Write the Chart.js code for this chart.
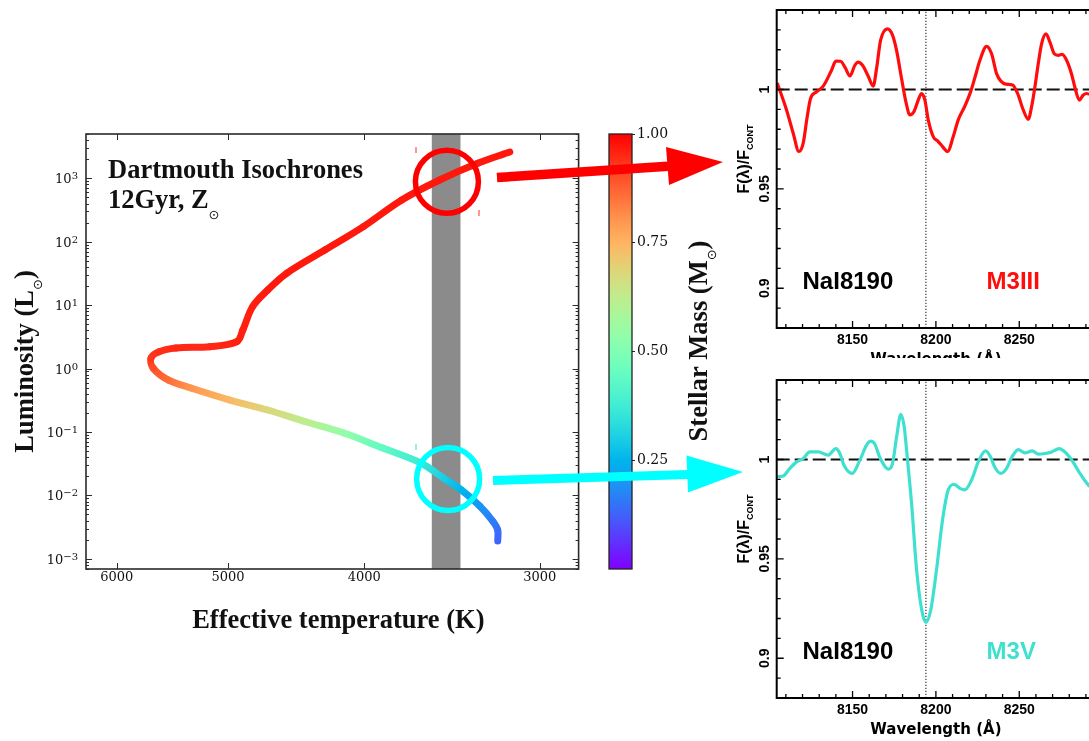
<!DOCTYPE html>
<html>
<head>
<meta charset="utf-8">
<title>Dartmouth isochrone and NaI8190 spectra</title>
<script src="https://cdn.jsdelivr.net/npm/chart.js@4.4.1/dist/chart.umd.min.js"></script>
<style>
  html, body { margin: 0; padding: 0; background: #fff; overflow: hidden; }
  body { width: 1089px; height: 741px; position: relative; }
  .box { position: absolute; }
  #hrBox { left: 0; top: 0; width: 600px; height: 660px; }
  #cbarBox { left: 560px; top: 0; width: 160px; height: 600px; }
  #specTopBox { left: 720px; top: -12px; width: 400px; height: 383px; }
  #specBotBox { left: 720px; top: 358px; width: 400px; height: 383px; background: #fff; }
  #arrows { position: absolute; left: 0; top: 0; z-index: 5; pointer-events: none; }
</style>
</head>
<body>
<div class="box" id="hrBox"><canvas id="hrChart" width="600" height="660"></canvas></div>
<div class="box" id="cbarBox"><canvas id="cbarChart" width="160" height="600"></canvas></div>
<div class="box" id="specTopBox"><canvas id="specTop" width="400" height="383"></canvas></div>
<div class="box" id="specBotBox"><canvas id="specBot" width="400" height="383"></canvas></div>
<svg id="arrows" width="1089" height="741">
  <line x1="497" y1="177.5" x2="668" y2="166.3" stroke="#ff0000" stroke-width="9.5"/>
  <polygon points="666,147 723,162 669,185" fill="#ff0000"/>
  <line x1="493" y1="480.5" x2="688" y2="474.5" stroke="#00ffff" stroke-width="9"/>
  <polygon points="686.5,455.5 743,472 688,492.5" fill="#00ffff"/>
  <line x1="416" y1="147" x2="416" y2="153" stroke="#ff5050" stroke-width="1.2"/>
  <line x1="479" y1="210" x2="479" y2="216" stroke="#ff5050" stroke-width="1.2"/>
  <line x1="416" y1="444" x2="416" y2="450" stroke="#60e0e0" stroke-width="1.2"/>
</svg>

<script>
// --- HR diagram data (12 Gyr, solar metallicity isochrone) ---
const isoTeff = [3214, 3214, 3241, 3310, 3410, 3512, 3646, 3880, 4135, 4402,
                 4685, 4985, 5313, 5516, 5653, 5672, 5598, 5445, 5150, 4928,
                 4880, 4803, 4685, 4542, 4266, 4005, 3761, 3535, 3321, 3151];
const isoLum = [0.0019, 0.00284, 0.00394, 0.00678, 0.0121, 0.0187, 0.0324, 0.0557, 0.0961, 0.145,
                0.222, 0.319, 0.494, 0.661, 1.02, 1.47, 1.84, 2.11, 2.21, 2.65,
                4.05, 9.44, 17.3, 31.8, 74, 173, 455, 940, 1726, 2600];
const isoMass = [0.13, 0.14, 0.16, 0.2, 0.25, 0.3, 0.37, 0.44, 0.54, 0.62,
                 0.68, 0.74, 0.8, 0.86, 0.9, 0.93, 0.94, 0.95, 0.95, 0.96,
                 0.96, 0.96, 0.97, 0.97, 0.97, 0.97, 0.97, 0.97, 0.97, 0.97];
const bandTeff = [3582, 3415];          // M3 temperature strip
const ringTeff = [3493, 3486];          // giant / dwarf highlight
const ringLum = [883, 0.0181];
const teffTicks = [6000, 5000, 4000, 3000];
const lumTickExp = [-3, -2, -1, 0, 1, 2, 3];
const massTicks = [0.25, 0.5, 0.75, 1.0];

const TEFF_MIN = 2815, TEFF_MAX = 6310;
const LUM_MIN = 6.9e-4, LUM_MAX = 5000;

// --- Spectra around NaI 8190 ---
const m3iiiWave = [8104.8, 8110.4, 8114.4, 8117.8, 8120.4, 8122.8, 8124.8, 8128.4, 8132.4, 8137.4,
                   8140.0, 8142.8, 8145.4, 8148.4, 8151.4, 8153.4, 8156.0, 8159.4, 8162.4, 8164.4,
                   8166.8, 8171.0, 8173.8, 8176.4, 8179.4, 8182.0, 8184.4, 8186.8, 8189.4, 8191.4,
                   8193.4, 8195.4, 8198.4, 8201.4, 8204.0, 8207.0, 8210.4, 8213.4, 8217.4, 8220.8,
                   8223.4, 8226.4, 8230.4, 8233.4, 8236.4, 8239.0, 8242.0, 8246.0, 8249.0, 8252.4,
                   8255.4, 8257.4, 8259.4, 8261.4, 8263.4, 8266.0, 8268.4, 8271.0, 8273.4, 8275.8,
                   8278.4, 8281.4, 8283.4, 8286.0, 8288.4, 8290.4, 8296.0];
const m3iiiFlux = [1.0033, 0.9897, 0.978, 0.9688, 0.973, 0.9863, 0.9955, 0.9988, 1.0017, 1.0097,
                   1.0143, 1.0142, 1.0113, 1.0068, 1.0122, 1.0138, 1.0122, 1.0067, 1.0017, 1.0105,
                   1.0247, 1.0305, 1.0277, 1.0197, 1.0055, 0.9938, 0.9872, 0.9888, 0.9947, 0.998,
                   0.9947, 0.9847, 0.9763, 0.9738, 0.9713, 0.9688, 0.9763, 0.9847, 0.9917, 0.9988,
                   1.006, 1.0147, 1.0217, 1.018, 1.008, 1.0042, 1.0027, 1.0023, 0.998, 0.9897,
                   0.985, 0.9913, 1.0013, 1.013, 1.023, 1.028, 1.0238, 1.018, 1.0172, 1.0177,
                   1.0147, 1.0077, 1.001, 0.9947, 0.9972, 0.998, 0.996];
const m3vWave = [8104.8, 8108.4, 8112.4, 8116.4, 8120.4, 8124.4, 8129.4, 8135.4, 8140.0, 8142.4,
                 8144.8, 8149.8, 8154.4, 8158.4, 8160.8, 8163.4, 8166.4, 8171.4, 8174.0, 8176.4,
                 8179.0, 8181.0, 8182.8, 8185.4, 8188.4, 8191.4, 8194.0, 8197.0, 8200.4, 8204.0,
                 8207.4, 8211.0, 8214.4, 8217.4, 8221.4, 8225.4, 8229.8, 8232.8, 8235.4, 8239.0,
                 8242.4, 8245.4, 8249.4, 8253.4, 8257.8, 8261.4, 8265.4, 8269.4, 8274.0, 8277.4,
                 8280.4, 8283.4, 8286.4, 8291.4, 8296.0];
const m3vFlux = [0.9913, 0.9917, 0.9955, 0.9988, 1.0005, 1.0038, 1.0038, 1.0022, 1.0055, 1.003,
                 0.9972, 0.993, 0.9997, 1.0072, 1.0092, 1.0077, 1.001, 0.9952, 0.998, 1.0113,
                 1.0227, 1.0163, 1.0013, 0.978, 0.9447, 0.9247, 0.918, 0.9247, 0.9447, 0.9697,
                 0.9847, 0.9875, 0.9855, 0.9847, 0.9897, 0.9988, 1.0043, 1.0013, 0.996, 0.993,
                 0.9955, 1.001, 1.005, 1.0033, 1.0043, 1.0027, 1.003, 1.0038, 1.0055, 1.0038,
                 1.001, 0.9972, 0.993, 0.9872, 0.984];
const waveTicks = [8150, 8200, 8250];
const fluxTicks = [0.9, 0.95, 1];
const fluxTickLabels = ['0.9', '0.95', '1'];

const WAVE_MIN = 8104.5, WAVE_MAX = 8300;
const FLUX_MIN = 0.88, FLUX_MAX = 1.04;
const NAI_WAVE = 8194, CONTINUUM = 1;

// matplotlib "rainbow" colormap
function rainbow(v) {
    const r = Math.min(1, Math.abs(2 * v - 0.5));
    const g = Math.sin(Math.PI * v);
    const b = Math.cos(Math.PI * v / 2);
    return `rgb(${Math.round(r * 255)},${Math.round(g * 255)},${Math.round(b * 255)})`;
}

// text pieces with their own font and vertical shift (for sub/superscripts)
function drawParts(ctx, parts, x, y, rot, align) {
    ctx.save();
    ctx.translate(x, y);
    ctx.rotate(rot);
    ctx.textAlign = 'left';
    ctx.textBaseline = 'alphabetic';
    let w = 0;
    parts.forEach(p => { ctx.font = p[1]; w += ctx.measureText(p[0]).width; });
    let cx = align === 'center' ? -w / 2 : 0;
    parts.forEach(p => {
        ctx.font = p[1];
        ctx.fillText(p[0], cx, p[2] || 0);
        cx += ctx.measureText(p[0]).width;
    });
    ctx.restore();
}

const SERIF_TITLE = 'bold 26.5px "Liberation Serif"';
const SUN_FONT = '13px "DejaVu Sans"';

// --- HR diagram ---
const hrDecor = {
    id: 'hrDecor',
    afterDatasetsDraw(chart) {
        const { ctx, scales: { x, y } } = chart;
        const ringColors = ['#ff0000', '#00ffff'];
        ctx.save();
        ctx.lineWidth = 5.5;
        ringTeff.forEach((t, i) => {
            ctx.strokeStyle = ringColors[i];
            ctx.beginPath();
            ctx.arc(x.getPixelForValue(t), y.getPixelForValue(ringLum[i]), 31.5, 0, Math.PI * 2);
            ctx.stroke();
        });
        ctx.restore();
    },
    afterDraw(chart) {
        const { ctx, chartArea: a, scales: { x, y } } = chart;
        ctx.save();
        ctx.strokeStyle = '#2a2a2a';
        ctx.lineWidth = 1.6;
        ctx.strokeRect(a.left, a.top, a.right - a.left, a.bottom - a.top);

        ctx.lineWidth = 1;
        ctx.beginPath();
        for (let e = -4; e <= 4; e++) {
            for (let m = 1; m < 10; m++) {
                const v = m * Math.pow(10, e);
                if (v < y.min || v > y.max) continue;
                const py = Math.round(y.getPixelForValue(v)) + 0.5;
                const len = m === 1 ? 6 : 3;
                ctx.moveTo(a.left, py); ctx.lineTo(a.left + len, py);
                ctx.moveTo(a.right, py); ctx.lineTo(a.right - len, py);
            }
        }
        teffTicks.forEach(t => {
            const px = Math.round(x.getPixelForValue(t)) + 0.5;
            ctx.moveTo(px, a.bottom); ctx.lineTo(px, a.bottom - 6);
            ctx.moveTo(px, a.top); ctx.lineTo(px, a.top + 6);
        });
        ctx.stroke();

        // 10^n labels
        ctx.fillStyle = '#111';
        ctx.textAlign = 'right';
        ctx.textBaseline = 'alphabetic';
        lumTickExp.forEach(e => {
            const py = y.getPixelForValue(Math.pow(10, e));
            const ex = e < 0 ? '\u2212' + (-e) : String(e);
            ctx.font = '10px "DejaVu Serif"';
            const we = ctx.measureText(ex).width;
            ctx.fillText(ex, a.left - 8, py + 1);
            ctx.font = '13px "DejaVu Serif"';
            ctx.fillText('10', a.left - 8 - we, py + 5);
        });

        // titles and note
        ctx.fillStyle = '#111';
        drawParts(ctx, [['Dartmouth Isochrones', SERIF_TITLE]], a.left + 22, a.top + 44, 0, 'left');
        drawParts(ctx, [['12Gyr, Z', SERIF_TITLE], ['\u2299', SUN_FONT, 11]], a.left + 22, a.top + 74, 0, 'left');
        drawParts(ctx, [['Luminosity (L', SERIF_TITLE], ['\u2299', SUN_FONT, 9], [')', SERIF_TITLE]],
            33, (a.top + a.bottom) / 2 + 10, -Math.PI / 2, 'center');
        drawParts(ctx, [['Effective temperature (K)', SERIF_TITLE]],
            (a.left + a.right) / 2 + 6, a.bottom + 59, 0, 'center');
        ctx.restore();
    }
};

new Chart(document.getElementById('hrChart'), {
    type: 'scatter',
    data: {
        datasets: [{
            data: isoTeff.map((t, i) => ({ x: t, y: isoLum[i] })),
            showLine: true,
            borderWidth: 7,
            borderCapStyle: 'round',
            borderJoinStyle: 'round',
            pointRadius: 0,
            tension: 0.35,
            order: 1,
            segment: {
                borderColor: c => {
                    const g = c.chart.ctx.createLinearGradient(c.p0.x, c.p0.y, c.p1.x, c.p1.y);
                    g.addColorStop(0, rainbow(isoMass[c.p0DataIndex]));
                    g.addColorStop(1, rainbow(isoMass[c.p1DataIndex]));
                    return g;
                },
                // keeps every piece its own stroke so each gets its gradient
                borderDashOffset: c => c.p0DataIndex
            }
        }, {
            data: [{ x: bandTeff[0], y: LUM_MAX }, { x: bandTeff[1], y: LUM_MAX }],
            showLine: true,
            borderWidth: 0,
            pointRadius: 0,
            fill: 'start',
            backgroundColor: '#8b8b8b',
            order: 2
        }]
    },
    options: {
        responsive: false,
        animation: false,
        events: [],
        layout: { padding: { left: 0, top: 134, right: 21.4, bottom: 0 } },
        plugins: { legend: { display: false }, tooltip: { enabled: false } },
        scales: {
            x: {
                type: 'logarithmic', reverse: true, min: TEFF_MIN, max: TEFF_MAX,
                afterBuildTicks: s => { s.ticks = teffTicks.map(v => ({ value: v })); },
                afterFit: s => { s.height = 91; },
                grid: { display: false, drawTicks: false },
                border: { display: false },
                ticks: {
                    padding: 1, color: '#111', autoSkip: false, maxRotation: 0,
                    font: { family: 'DejaVu Serif', size: 13 },
                    callback: v => String(v)
                }
            },
            y: {
                type: 'logarithmic', min: LUM_MIN, max: LUM_MAX,
                afterFit: s => { s.width = 86; },
                grid: { display: false, drawTicks: false },
                border: { display: false },
                ticks: { display: false }
            }
        }
    },
    plugins: [hrDecor]
});

// --- colour bar ---
const cbarDecor = {
    id: 'cbarDecor',
    beforeDatasetsDraw(chart) {
        const { ctx, chartArea: a } = chart;
        const g = ctx.createLinearGradient(0, a.bottom, 0, a.top);
        for (let i = 0; i <= 32; i++) g.addColorStop(i / 32, rainbow(i / 32));
        ctx.save();
        ctx.fillStyle = g;
        ctx.fillRect(a.left, a.top, a.right - a.left, a.bottom - a.top);
        ctx.restore();
    },
    afterDraw(chart) {
        const { ctx, chartArea: a } = chart;
        ctx.save();
        ctx.strokeStyle = '#222';
        ctx.lineWidth = 1.3;
        ctx.strokeRect(a.left, a.top, a.right - a.left, a.bottom - a.top);
        ctx.fillStyle = '#111';
        drawParts(ctx, [['Stellar Mass (M', SERIF_TITLE], ['\u2299', SUN_FONT, 9], [')', SERIF_TITLE]],
            a.right + 75, 341, -Math.PI / 2, 'center');
        ctx.restore();
    }
};

new Chart(document.getElementById('cbarChart'), {
    type: 'scatter',
    data: { datasets: [] },
    options: {
        responsive: false,
        animation: false,
        events: [],
        layout: { padding: { left: 49, top: 134, right: 0, bottom: 31 } },
        plugins: { legend: { display: false }, tooltip: { enabled: false } },
        scales: {
            x: { display: false, min: 0, max: 1 },
            y: {
                position: 'right', min: 0, max: 1,
                afterBuildTicks: s => { s.ticks = massTicks.map(v => ({ value: v })); },
                afterFit: s => { s.width = 88; },
                grid: { display: true, drawOnChartArea: false, drawTicks: true, tickLength: 3, color: '#222' },
                border: { display: false },
                ticks: {
                    padding: 2, color: '#111',
                    font: { family: 'DejaVu Serif', size: 14 },
                    callback: v => Number(v).toFixed(2)
                }
            }
        }
    },
    plugins: [cbarDecor]
});

// --- spectra ---
const specDecor = {
    id: 'specDecor',
    afterDraw(chart, args, opts) {
        const { ctx, chartArea: a, scales: { x, y } } = chart;
        ctx.save();
        ctx.strokeStyle = '#000';
        ctx.lineWidth = 2;
        ctx.strokeRect(a.left, a.top, a.right - a.left, a.bottom - a.top);

        ctx.lineWidth = 1.3;
        ctx.beginPath();
        for (let w = 8110; w <= 8300; w += 10) {
            const px = x.getPixelForValue(w);
            const len = w % 50 === 0 ? 7 : 4;
            ctx.moveTo(px, a.bottom); ctx.lineTo(px, a.bottom - len);
            ctx.moveTo(px, a.top); ctx.lineTo(px, a.top + len);
        }
        for (let k = 88; k <= 104; k++) {
            const py = y.getPixelForValue(k / 100);
            const len = k % 5 === 0 ? 7 : 4;
            ctx.moveTo(a.left, py); ctx.lineTo(a.left + len, py);
            ctx.moveTo(a.right, py); ctx.lineTo(a.right - len, py);
        }
        ctx.stroke();

        ctx.fillStyle = '#000';
        ctx.font = 'bold 14px "Liberation Sans"';
        fluxTicks.forEach((v, i) => {
            ctx.save();
            ctx.translate(a.left - 12, y.getPixelForValue(v));
            ctx.rotate(-Math.PI / 2);
            ctx.textAlign = 'center';
            ctx.textBaseline = 'middle';
            ctx.fillText(fluxTickLabels[i], 0, 0);
            ctx.restore();
        });

        drawParts(ctx, [['F(\u03bb)/F', 'bold 16px "Liberation Sans"'], ['CONT', 'bold 9px "Liberation Sans"', 4]],
            a.left - 28, a.top + 149, -Math.PI / 2, 'center');
        drawParts(ctx, [['Wavelength (\u00c5)', 'bold 15px "DejaVu Sans"']],
            x.getPixelForValue(8200), a.bottom + 36, 0, 'center');

        ctx.font = 'bold 24px "Liberation Sans"';
        ctx.textAlign = 'left';
        ctx.textBaseline = 'alphabetic';
        ctx.fillStyle = '#000';
        ctx.fillText('NaI8190', x.getPixelForValue(8120), y.getPixelForValue(0.8995));
        ctx.fillStyle = opts.color;
        ctx.fillText(opts.label, x.getPixelForValue(8230.4), y.getPixelForValue(0.8995));
        ctx.restore();
    }
};

function makeSpectrum(canvasId, wave, flux, color, starLabel) {
    return new Chart(document.getElementById(canvasId), {
        type: 'scatter',
        data: {
            datasets: [{
                data: wave.map((w, i) => ({ x: w, y: flux[i] })),
                showLine: true,
                borderColor: color,
                borderWidth: 3.2,
                pointRadius: 0,
                cubicInterpolationMode: 'monotone',
                order: 1
            }, {
                data: [{ x: WAVE_MIN, y: CONTINUUM }, { x: WAVE_MAX, y: CONTINUUM }],
                showLine: true,
                borderColor: '#111',
                borderWidth: 2,
                borderDash: [13, 5],
                pointRadius: 0,
                order: 2
            }, {
                data: [{ x: NAI_WAVE, y: FLUX_MIN }, { x: NAI_WAVE, y: FLUX_MAX }],
                showLine: true,
                borderColor: '#333',
                borderWidth: 1.2,
                borderDash: [1.3, 1.7],
                pointRadius: 0,
                order: 3
            }]
        },
        options: {
            responsive: false,
            animation: false,
            events: [],
            layout: { padding: { left: 0, top: 22, right: 17.4, bottom: 0 } },
            plugins: {
                legend: { display: false },
                tooltip: { enabled: false },
                specDecor: { label: starLabel, color: color }
            },
            scales: {
                x: {
                    type: 'linear', min: WAVE_MIN, max: WAVE_MAX,
                    afterBuildTicks: s => { s.ticks = waveTicks.map(v => ({ value: v })); },
                    afterFit: s => { s.height = 43; },
                    grid: { display: false, drawTicks: false },
                    border: { display: false },
                    ticks: {
                        padding: 4, color: '#000', autoSkip: false, maxRotation: 0,
                        font: { family: 'Liberation Sans', weight: 'bold', size: 14 },
                        callback: v => String(v)
                    }
                },
                y: {
                    min: FLUX_MIN, max: FLUX_MAX,
                    afterFit: s => { s.width = 56.7; },
                    grid: { display: false, drawTicks: false },
                    border: { display: false },
                    ticks: { display: false }
                }
            }
        },
        plugins: [specDecor]
    });
}

makeSpectrum('specTop', m3iiiWave, m3iiiFlux, '#ff0d0d', 'M3III');
makeSpectrum('specBot', m3vWave, m3vFlux, '#40e0d0', 'M3V');
</script>
</body>
</html>
